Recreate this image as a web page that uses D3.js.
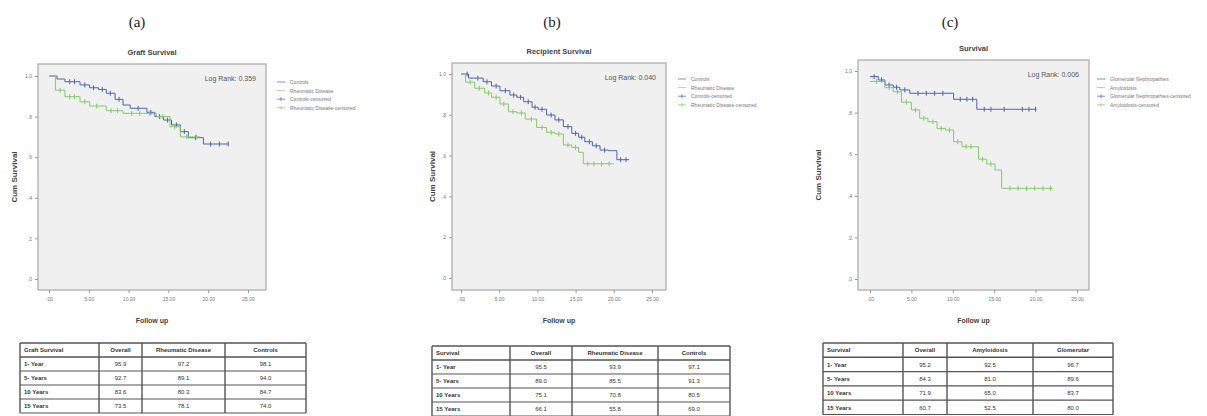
<!DOCTYPE html>
<html>
<head>
<meta charset="utf-8">
<script src="https://cdn.jsdelivr.net/npm/d3@7"></script>
<style>
  body { margin: 0; background: #fff; }
  svg text { font-family: "Liberation Sans", Arial, sans-serif; }
</style>
</head>
<body>
<svg id="chart" width="1207" height="416"></svg>
<script>
// axis ticks shared by all three KM plots
const xTicks = [0, 5, 10, 15, 20, 25];
const yTicks = [0, 0.2, 0.4, 0.6, 0.8, 1.0];

// (a) graft survival
const graftControlTime = [0, 1.0, 2.0, 3.9, 5.1, 6.2, 7.2, 8.3, 9.3, 10.2, 12.3, 13.3, 14.4, 15.4, 16.5, 17.5, 19.4, 22.6];
const graftControlSurv = [1.0, 0.985, 0.972, 0.956, 0.942, 0.934, 0.915, 0.885, 0.857, 0.841, 0.821, 0.80, 0.783, 0.759, 0.726, 0.696, 0.665, 0.665];
const graftControlCens = [2.6, 3.2, 4.5, 5.6, 6.7, 7.7, 8.8, 11.2, 12.8, 13.9, 14.9, 16.0, 17.0, 18.4, 20.3, 21.4, 22.5];
const graftRheumTime = [0, 0.8, 2.0, 3.9, 5.1, 7.2, 9.3, 13.5, 15.2, 16.5, 19.0];
const graftRheumSurv = [1.0, 0.93, 0.898, 0.873, 0.852, 0.829, 0.816, 0.80, 0.75, 0.70, 0.70];
const graftRheumCens = [1.4, 2.6, 3.2, 4.5, 6.0, 7.8, 8.6, 10.4, 11.4, 12.6, 14.3, 15.8, 17.3, 18.5];

// (b) recipient survival
const recControlTime = [0, 1.0, 2.9, 4.0, 5.1, 6.4, 7.3, 8.2, 9.3, 10.1, 11.2, 12.3, 13.4, 14.5, 15.4, 16.2, 17.2, 18.2, 19.3, 20.4, 22.0];
const recControlSurv = [1.0, 0.98, 0.962, 0.941, 0.918, 0.897, 0.886, 0.864, 0.837, 0.827, 0.799, 0.775, 0.742, 0.709, 0.69, 0.668, 0.648, 0.627, 0.624, 0.58, 0.58];
const recControlCens = [0.8, 2.2, 3.4, 4.6, 5.8, 6.9, 7.8, 8.8, 9.7, 10.6, 11.8, 12.8, 14.0, 15.0, 15.8, 16.8, 17.7, 18.8, 20.9, 21.6];
const recRheumTime = [0, 0.6, 1.8, 3.1, 4.0, 5.1, 6.2, 7.3, 8.4, 9.9, 11.2, 12.3, 13.4, 14.5, 15.4, 16.0, 20.0];
const recRheumSurv = [1.0, 0.96, 0.93, 0.907, 0.886, 0.853, 0.815, 0.809, 0.779, 0.738, 0.714, 0.706, 0.652, 0.64, 0.616, 0.56, 0.56];
const recRheumCens = [1.2, 2.4, 3.6, 4.6, 5.6, 6.8, 7.9, 9.2, 10.6, 11.8, 12.8, 14.0, 15.0, 16.6, 17.4, 18.4, 19.4];

// (c) survival by primary disease
const survGlomTime = [0, 1.0, 1.8, 2.8, 3.6, 4.8, 10.1, 12.9, 20.1];
const survGlomSurv = [0.973, 0.957, 0.933, 0.922, 0.909, 0.893, 0.864, 0.816, 0.816];
const survGlomCens = [0.5, 1.4, 2.3, 3.2, 4.2, 5.8, 6.8, 7.8, 8.8, 10.9, 11.7, 12.4, 13.8, 14.6, 16.2, 18.4, 19.2, 20.0];
const survAmyTime = [0, 1.8, 2.8, 3.8, 5.0, 6.0, 7.0, 8.1, 9.1, 10.1, 11.1, 13.1, 14.1, 15.1, 15.9, 22.1];
const survAmySurv = [0.95, 0.92, 0.90, 0.85, 0.813, 0.773, 0.756, 0.724, 0.716, 0.66, 0.636, 0.576, 0.553, 0.524, 0.436, 0.436];
const survAmyCens = [0.8, 2.3, 3.3, 4.4, 5.5, 6.5, 7.6, 8.6, 9.6, 10.6, 11.6, 12.2, 13.6, 14.6, 16.9, 17.9, 18.9, 19.9, 20.9, 21.8];

// legends, titles, tables
const legendA = ["Controls", "Rheumatic Disease", "Controls-censored", "Rheumatic Disease-censored"];
const legendC = ["Glomerular Nephropathies", "Amyloidosis", "Glomerular Nephropathies-censored", "Amyloidosis-censored"];
const tableHeadA = ["Graft Survival", "Overall", "Rheumatic Disease", "Controls"];
const tableHeadB = ["Survival", "Overall", "Rheumatic Disease", "Controls"];
const tableHeadC = ["Survival", "Overall", "Amyloidosis", "Glomerular"];
const rowLabels = ["1- Year", "5- Years", "10 Years", "15 Years"];
const tableValsA = [["95.9", "97.2", "98.1"], ["92.7", "89.1", "94.0"], ["83.6", "80.3", "84.7"], ["73.5", "78.1", "74.0"]];
const tableValsB = [["95.5", "93.9", "97.1"], ["89.0", "85.5", "91.3"], ["75.1", "70.8", "80.5"], ["66.1", "55.8", "69.0"]];
const tableValsC = [["95.2", "92.5", "96.7"], ["84.3", "81.0", "89.6"], ["71.9", "65.0", "83.7"], ["60.7", "52.5", "80.0"]];

const BLUE = '#4a66b4';
const GREEN = '#86c86e';

const svg = d3.select('#chart');

const panels = [
  {
    tag: '(a)', tagX: 137, title: 'Graft Survival', logRank: 'Log Rank: 0.359', legend: legendA,
    box: [38, 64, 266, 290], x0: 49, x25: 248, y0: 279, y1: 76, yLabX: 14,
    series: [
      { t: graftControlTime, s: graftControlSurv, c: graftControlCens, color: BLUE },
      { t: graftRheumTime, s: graftRheumSurv, c: graftRheumCens, color: GREEN }
    ],
    legX: 277, legY: 82,
    table: { head: tableHeadA, vals: tableValsA, x: 20, y: 343, cols: [79, 43, 83, 81], rowH: 14 }
  },
  {
    tag: '(b)', tagX: 552, title: 'Recipient Survival', logRank: 'Log Rank: 0.040', legend: legendA,
    box: [452, 63, 666, 290], x0: 461, x25: 652, y0: 278, y1: 74, yLabX: 432,
    series: [
      { t: recControlTime, s: recControlSurv, c: recControlCens, color: BLUE },
      { t: recRheumTime, s: recRheumSurv, c: recRheumCens, color: GREEN }
    ],
    legX: 678, legY: 79,
    table: { head: tableHeadB, vals: tableValsB, x: 432, y: 346, cols: [78, 62, 86, 72], rowH: 14 }
  },
  {
    tag: '(c)', tagX: 950, title: 'Survival', logRank: 'Log Rank: 0.006', legend: legendC,
    box: [858, 60, 1089, 290], x0: 870, x25: 1077, y0: 279, y1: 71, yLabX: 818,
    series: [
      { t: survGlomTime, s: survGlomSurv, c: survGlomCens, color: BLUE },
      { t: survAmyTime, s: survAmySurv, c: survAmyCens, color: GREEN }
    ],
    legX: 1097, legY: 79,
    table: { head: tableHeadC, vals: tableValsC, x: 823, y: 343, cols: [80, 44, 86, 80], rowH: 14.3 }
  }
];

panels.forEach(drawPanel);

function stepValue(times, surv, t) {
  let v = surv[0];
  for (let i = 0; i < times.length; i++) {
    if (times[i] <= t) v = surv[i];
  }
  return v;
}

function drawPanel(p) {
  const [bx0, by0, bx1, by1] = p.box;
  const cx = (bx0 + bx1) / 2;
  const g = svg.append('g');

  const x = d3.scaleLinear().domain([0, 25]).range([p.x0, p.x25]);
  const y = d3.scaleLinear().domain([0, 1]).range([p.y0, p.y1]);

  g.append('text')
    .attr('x', p.tagX).attr('y', 27)
    .attr('text-anchor', 'middle')
    .style('font-family', '"Liberation Serif", serif')
    .style('font-size', '15px').attr('fill', '#222')
    .text(p.tag);

  g.append('text')
    .attr('x', cx).attr('y', by0 - 9)
    .attr('text-anchor', 'middle')
    .style('font-size', '7.5px').style('font-weight', 'bold').attr('fill', '#444')
    .text(p.title);

  g.append('rect')
    .attr('x', bx0).attr('y', by0)
    .attr('width', bx1 - bx0).attr('height', by1 - by0)
    .attr('fill', '#f0f0f0').attr('stroke', '#a8a8a8').attr('stroke-width', 1.2);

  // axes
  const xAxis = d3.axisBottom(x).tickValues(xTicks).tickSize(3)
    .tickFormat(d => d === 0 ? '.00' : d3.format('.2f')(d));
  g.append('g').attr('transform', `translate(0,${by1})`).call(xAxis)
    .call(a => a.select('.domain').remove())
    .call(a => a.selectAll('line').attr('stroke', '#999'))
    .call(a => a.selectAll('text').style('font-size', '5px').attr('fill', '#777').attr('dy', '0.9em'));

  const yAxis = d3.axisLeft(y).tickValues(yTicks).tickSize(3)
    .tickFormat(d => d === 1 ? '1.0' : d3.format('.1f')(d).replace(/^0/, ''));
  g.append('g').attr('transform', `translate(${bx0},0)`).call(yAxis)
    .call(a => a.select('.domain').remove())
    .call(a => a.selectAll('line').attr('stroke', '#999'))
    .call(a => a.selectAll('text').style('font-size', '5px').attr('fill', '#777'));

  g.append('text')
    .attr('transform', `translate(${p.yLabX + 3},${(by0 + by1) / 2}) rotate(-90)`)
    .attr('text-anchor', 'middle')
    .style('font-size', '8px').style('font-weight', 'bold').attr('fill', '#444')
    .text('Cum Survival');

  g.append('text')
    .attr('x', cx).attr('y', by1 + 33)
    .attr('text-anchor', 'middle')
    .style('font-size', '7px').style('font-weight', 'bold').attr('fill', '#444')
    .text('Follow up');

  g.append('text')
    .attr('x', bx1 - 10).attr('y', by0 + 17)
    .attr('text-anchor', 'end')
    .style('font-size', '7px').attr('fill', '#555')
    .text(p.logRank);

  // step curves
  const line = d3.line().curve(d3.curveStepAfter)
    .x(d => x(d[0])).y(d => y(d[1]));
  p.series.forEach(s => {
    const pts = s.t.map((t, i) => [t, s.s[i]]);
    g.append('path').datum(pts)
      .attr('d', line)
      .attr('fill', 'none').attr('stroke', s.color).attr('stroke-width', 1);
    g.selectAll(null).data(s.c).enter().append('line')
      .attr('x1', d => x(d)).attr('x2', d => x(d))
      .attr('y1', d => y(stepValue(s.t, s.s, d)) - 2.5)
      .attr('y2', d => y(stepValue(s.t, s.s, d)) + 2.5)
      .attr('stroke', s.color).attr('stroke-width', 1);
  });

  // legend
  const leg = g.append('g').attr('transform', `translate(${p.legX},${p.legY})`);
  p.legend.forEach((label, i) => {
    const col = i % 2 === 0 ? BLUE : GREEN;
    const row = leg.append('g').attr('transform', `translate(0,${i * 8.6})`);
    row.append('line').attr('x1', 0).attr('x2', 8).attr('y1', 0).attr('y2', 0)
      .attr('stroke', col).attr('stroke-width', 1).attr('opacity', 0.7);
    if (i >= 2) {
      row.append('line').attr('x1', 4).attr('x2', 4).attr('y1', -2).attr('y2', 2)
        .attr('stroke', col).attr('stroke-width', 1).attr('opacity', 0.7);
    }
    row.append('text').attr('x', 13).attr('y', 2)
      .style('font-size', '5px').attr('fill', '#777')
      .text(label);
  });

  drawTable(g, p.table);
}

function drawTable(g, t) {
  const colX = [t.x];
  t.cols.forEach(w => colX.push(colX[colX.length - 1] + w));
  const rows = [t.head].concat(rowLabels.map((r, i) => [r].concat(t.vals[i])));
  const totalW = colX[colX.length - 1] - t.x;
  const tg = g.append('g');

  rows.forEach((r, ri) => {
    const ry = t.y + ri * t.rowH;
    r.forEach((cell, ci) => {
      const tx = ci === 0 ? colX[0] + 4 : (colX[ci] + colX[ci + 1]) / 2;
      tg.append('text')
        .attr('x', tx).attr('y', ry + t.rowH / 2 + 2.2)
        .attr('text-anchor', ci === 0 ? 'start' : 'middle')
        .style('font-size', '6px').attr('fill', '#333')
        .style('font-weight', ri === 0 || ci === 0 ? 'bold' : 'normal')
        .text(cell);
    });
  });

  const yLines = d3.range(rows.length + 1).map(i => t.y + i * t.rowH);
  tg.selectAll(null).data(yLines).enter().append('line')
    .attr('x1', t.x).attr('x2', t.x + totalW)
    .attr('y1', d => d).attr('y2', d => d)
    .attr('stroke', '#555').attr('stroke-width', (d, i) => i === 0 || i === 1 ? 1.6 : 1.2);
  tg.selectAll(null).data(colX).enter().append('line')
    .attr('x1', d => d).attr('x2', d => d)
    .attr('y1', t.y).attr('y2', yLines[yLines.length - 1])
    .attr('stroke', '#555').attr('stroke-width', 1.4);
}
</script>
</body>
</html>
